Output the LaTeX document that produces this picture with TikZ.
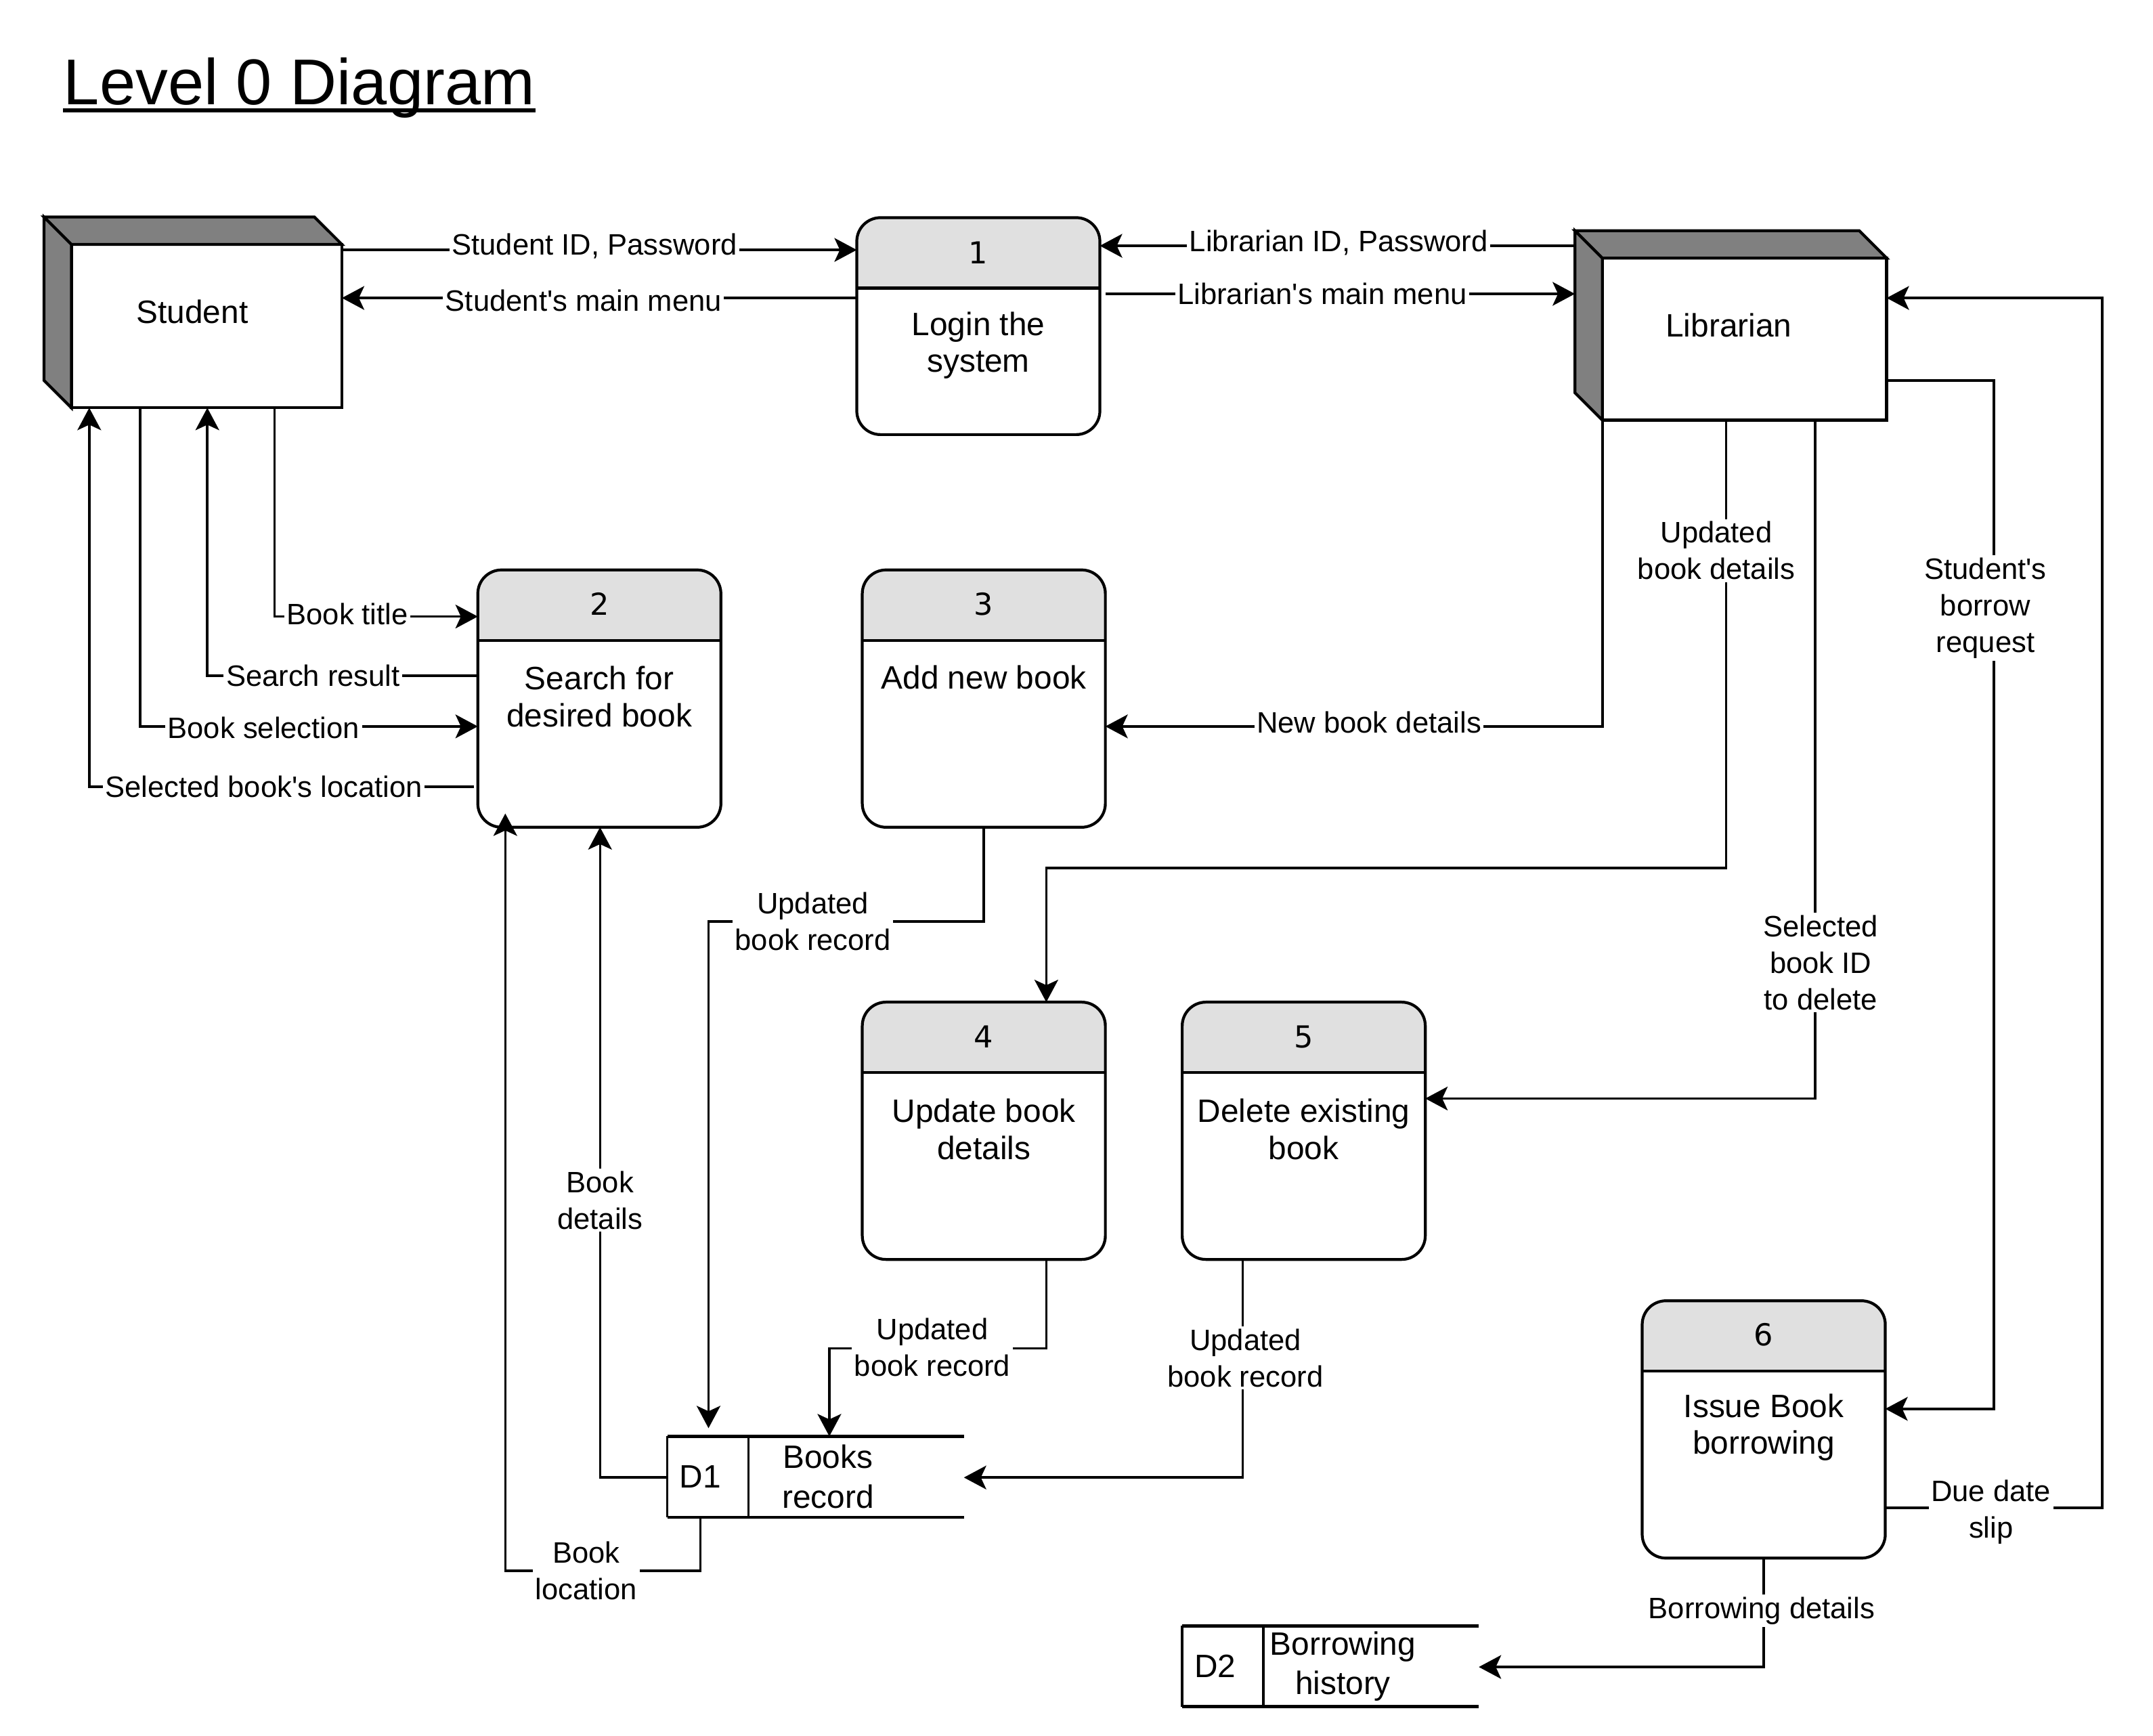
\documentclass[tikz,border=0pt]{standalone}
\usepackage{fontspec}
\setmainfont{Liberation Sans}
\newfontfamily\numfont{DejaVu Sans}
\usetikzlibrary{arrows.meta,calc}
\definecolor{hdr}{HTML}{E0E0E0}
\definecolor{entgray}{HTML}{808080}
\newcommand{\apos}{\textquotesingle}
\tikzset{
  proc/.style={draw, line width=1.2pt, rounded corners=0.35cm, fill=white,
    minimum width=3.59cm, minimum height=3.80cm, inner sep=0pt, outer sep=0pt,
    path picture={
      \fill[hdr, sharp corners] ([yshift=-1.04cm]path picture bounding box.north west) rectangle (path picture bounding box.north east);
      \draw[line width=1.2pt, sharp corners] ([yshift=-1.04cm]path picture bounding box.north west) -- ([yshift=-1.04cm]path picture bounding box.north east);
    }},
  ent/.style={draw, line width=1.2pt, fill=white, inner sep=0pt, outer sep=0pt},
  ent3d/.style={draw, line width=1.2pt, fill=entgray},
  storebox/.style={inner sep=0pt, outer sep=0pt, minimum width=4.380cm, minimum height=1.196cm},
  storethick/.style={line width=1.4pt},
  storethin/.style={line width=1.0pt},
  flow/.style={draw, line width=1.0pt, -{Stealth[length=0.33cm,width=0.35cm,inset=0.08cm]}},
  lbl/.style={fill=white, inner sep=1pt, font=\fontsize{12.4}{15.4}\selectfont, align=center},
  ptxt/.style={font=\fontsize{13.6}{15.6}\selectfont, align=center, inner sep=0pt},
  stxt/.style={font=\fontsize{13.6}{16.7}\selectfont, align=center, inner sep=0pt},
  num/.style={font=\numfont\fontsize{12.7}{15}\selectfont, inner sep=0pt},
}
\begin{document}
\begin{tikzpicture}[x=0.02028cm,y=-0.02028cm]
\useasboundingbox (0,0) rectangle (1568,1264);
\fill[white] (0,0) rectangle (1568,1264);

% title
\node[anchor=base west, inner sep=0pt, font=\fontsize{27.2}{30}\selectfont] (title) at (46,76) {Level 0 Diagram};
\draw[line width=1.6pt] ([yshift=-0.09cm]title.base west) -- ([yshift=-0.09cm]title.base east);

% Student entity
\node[ent, minimum width=3.995cm, minimum height=2.413cm] (st) at (150.5,237.5) {};
\draw[ent3d] (st.north west) -- ++(-20,-20) -- ++(197,0) -- (st.north east) -- cycle;
\draw[ent3d] (st.north west) -- ++(-20,-20) -- ++(0,119) -- (st.south west) -- cycle;
\node[ptxt] (sttext) at (140,227) {Student};

% Librarian entity
\node[ent, minimum width=4.198cm, minimum height=2.393cm] (lib) at (1270.5,247) {};
\draw[ent3d] (lib.north west) -- ++(-20,-20) -- ++(207,0) -- (lib.north east) -- cycle;
\draw[ent3d] (lib.north west) -- ++(-20,-20) -- ++(0,118) -- (lib.south west) -- cycle;
\node[ptxt] (libtext) at (1259,237) {Librarian};
\coordinate (libback) at ($(lib.north west)+(-20,0)$);

% processes
\node[proc, minimum height=3.204cm] (p1) at (712.5,237.5) {};
\node[num] (p1n) at (712.5,184) {1};
\node[ptxt] (p1t) at (712.5,251.5) {Login the\\system};

\node[proc] (p2) at (436.5,508.75) {};
\node[num] (p2n) at (436.5,440) {2};
\node[ptxt] (p2t) at (436.5,507.5) {Search for\\desired book};

\node[proc] (p3) at (716.5,508.75) {};
\node[num] (p3n) at (716.5,440) {3};
\node[ptxt] (p3t) at (716.5,493.5) {Add new book};

\node[proc] (p4) at (716.5,823.5) {};
\node[num] (p4n) at (716.5,755) {4};
\node[ptxt] (p4t) at (716.5,822.5) {Update book\\details};

\node[proc] (p5) at (949.5,823.5) {};
\node[num] (p5n) at (949.5,755) {5};
\node[ptxt] (p5t) at (949.5,822.5) {Delete existing\\book};

\node[proc] (p6) at (1284.5,1041) {};
\node[num] (p6n) at (1284.5,972) {6};
\node[ptxt] (p6t) at (1284.5,1039.5) {Issue Book\\borrowing};

% data stores
\node[storebox] (d1) at (594,1075.5) {};
\draw[storethick] (d1.north east) -- (d1.north west);
\draw[storethick] (d1.south east) -- (d1.south west);
\draw[storethin] (d1.north west) -- (d1.south west);
\draw[storethin] ($(d1.north west)+(59,0)$) -- ($(d1.south west)+(59,0)$);
\node[ptxt] (d1id) at (510,1075.5) {D1};
\node[stxt] (d1t) at (603,1075.5) {Books\\record};

\node[storebox] (d2) at (969,1213.5) {};
\draw[storethick] (d2.north east) -- (d2.north west);
\draw[storethick] (d2.south east) -- (d2.south west);
\draw[storethin] (d2.north west) -- (d2.south west);
\draw[storethin] ($(d2.north west)+(59,0)$) -- ($(d2.south west)+(59,0)$);
\node[ptxt] (d2id) at (885,1213.5) {D2};
\node[stxt] (d2t) at (978,1213.5) {Borrowing\\history};

% flows
\draw[flow] (st.east |- 0,182) -- (p1.west |- 0,182);
\draw[flow] (p1.west |- 0,217) -- (st.east |- 0,217);
\draw[flow] (libback |- 0,179) -- (p1.east |- 0,179);
\draw[flow] ($(p1.east |- 0,214)+(4,0)$) -- (libback |- 0,214);

\draw[flow] (st.south -| 200,0) |- (p2.west |- 0,449);
\draw[flow] (p2.west |- 0,492) -| (st.south -| 151,0);
\draw[flow] (st.south -| 102,0) |- (p2.west |- 0,529);
\draw[flow] ($(p2.west |- 0,573)+(-3,0)$) -| (st.south -| 65,0);

\draw[flow] (lib.south -| 1167,0) |- (p3.east |- 0,529);
\draw[flow] (lib.south -| 1257,0) -- (1257,632) -| (p4.north -| 762,0);
\draw[flow] (lib.south -| 1322,0) |- (p5.east |- 0,800);
\draw[flow] (lib.east |- 0,277) -- (1452,277) |- (p6.east |- 0,1026);
\draw[flow] (p6.east |- 0,1098) -- (1531,1098) |- (lib.east |- 0,217);
\draw[flow] (p6.south) |- (d2.east |- 0,1214);

\draw[flow, shorten >=0.12cm] (p3.south) -- (716.5,671) -| (d1.north -| 516,0);
\draw[flow] (p4.south -| 762,0) -- (762,982) -| (d1.north -| 604,0);
\draw[flow] (p5.south -| 905,0) |- (d1.east |- 0,1076);
\draw[flow] (d1.west |- 0,1076) -| (p2.south -| 437,0);
\draw[flow] (d1.south -| 510,0) -- (510,1144) -| ($(p2.south -| 368,0)+(0,-10)$);

% labels
\node[lbl] (l1) at (433,179) {Student ID, Password};
\node[lbl] (l2) at (425,219) {Student\apos s main menu};
\node[lbl] (l3) at (975,177) {Librarian ID, Password};
\node[lbl] (l4) at (963,214) {Librarian\apos s main menu};
\node[lbl] (l5) at (253,447) {Book title};
\node[lbl] (l6) at (228,492) {Search result};
\node[lbl] (l7) at (192,530) {Book selection};
\node[lbl] (l8) at (192,573) {Selected book\apos s location};
\node[lbl] (l9) at (997,526) {New book details};
\node[lbl] (l10) at (1250,401) {Updated\\book details};
\node[lbl] (l11) at (1326,701) {Selected\\book ID\\to delete};
\node[lbl] (l12) at (1446,443) {Student\apos s\\borrow\\request};
\node[lbl] (l13) at (1450,1101) {Due date\\slip};
\node[lbl] (l14) at (1283,1173) {Borrowing details};
\node[lbl] (l15) at (592,671) {Updated\\book record};
\node[lbl] (l16) at (679,981) {Updated\\book record};
\node[lbl] (l17) at (907,989) {Updated\\book record};
\node[lbl] (l18) at (437,874) {Book\\details};
\node[lbl] (l19) at (427,1144) {Book\\location};
\end{tikzpicture}
\end{document}
